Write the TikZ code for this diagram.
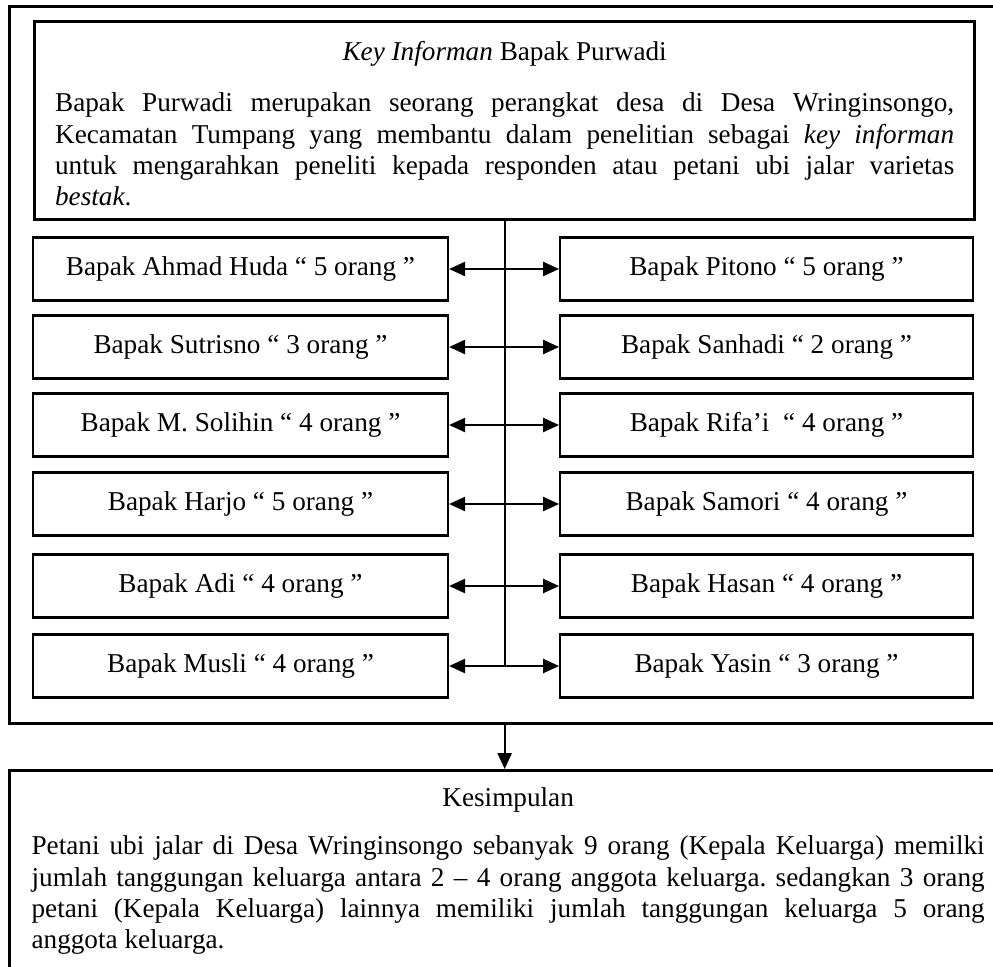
\documentclass[tikz,border=0pt]{standalone}
\usepackage{fontspec}
\setmainfont{Liberation Serif}
\usetikzlibrary{arrows.meta, positioning}
\setlength{\parindent}{0pt}
\frenchspacing

\begin{document}
\begin{tikzpicture}[
  x=0.441pt, y=-0.441pt,
  font=\fontsize{12}{13.8}\selectfont,
  frame/.style={draw, line width=1.4pt, inner sep=0pt, anchor=north west},
  infobox/.style={draw, line width=1.5pt, anchor=north west, inner xsep=9pt, inner ysep=0pt, align=justify},
  person/.style={draw, line width=1pt, minimum height=27.8pt, inner sep=0pt},
  link/.style={{Triangle[length=7pt,width=6.2pt]}-{Triangle[length=7pt,width=6.2pt]}, line width=0.9pt},
  arrow/.style={-{Triangle[length=7pt,width=6.2pt]}, line width=0.9pt}
]
  \useasboundingbox (0,0) rectangle (993,966);

  % outer frame round the informant and the respondents
  \node[frame, minimum width=441.9pt, minimum height=316.2pt] (frame) at (8,5) {};

  \node[infobox, text width=396.5pt, text height=17.2pt, text depth=70.1pt] (info) at (33,20) {%
    {\centering\textit{Key Informan} Bapak Purwadi\par}
    \vspace{8.7pt}
    Bapak Purwadi merupakan seorang perangkat desa di Desa Wringinsongo,\linebreak
    Kecamatan Tumpang yang membantu dalam penelitian sebagai \textit{key informan}\linebreak
    untuk mengarahkan peneliti kepada responden atau petani ubi jalar varietas\linebreak
    \textit{bestak}.};

  % respondents, left column
  \node[person, minimum width=183pt] (huda) at (240.5,269) {Bapak Ahmad Huda “ 5 orang ”};
  \node[person, minimum width=183pt] (sutrisno) at (240.5,347) {Bapak Sutrisno “ 3 orang ”};
  \node[person, minimum width=183pt] (solihin) at (240.5,425) {Bapak M. Solihin “ 4 orang ”};
  \node[person, minimum width=183pt] (harjo) at (240.5,504) {Bapak Harjo “ 5 orang ”};
  \node[person, minimum width=183pt] (adi) at (240.5,586) {Bapak Adi “ 4 orang ”};
  \node[person, minimum width=183pt] (musli) at (240.5,666) {Bapak Musli “ 4 orang ”};

  % respondents, right column
  \node[person, minimum width=182pt] (pitono) at (766.5,269) {Bapak Pitono “ 5 orang ”};
  \node[person, minimum width=182pt] (sanhadi) at (766.5,347) {Bapak Sanhadi “ 2 orang ”};
  \node[person, minimum width=182pt] (rifai) at (766.5,425) {Bapak Rifa’i\ \ “ 4 orang ”};
  \node[person, minimum width=182pt] (samori) at (766.5,504) {Bapak Samori “ 4 orang ”};
  \node[person, minimum width=182pt] (hasan) at (766.5,586) {Bapak Hasan “ 4 orang ”};
  \node[person, minimum width=182pt] (yasin) at (766.5,666) {Bapak Yasin “ 3 orang ”};

  \node[frame, inner xsep=9.7pt, text width=420.3pt, align=justify, text height=15.9pt, text depth=132pt] (concl) at (8,769) {%
    {\centering Kesimpulan\par}
    \vspace{7.4pt}
    Petani ubi jalar di Desa Wringinsongo sebanyak 9 orang (Kepala Keluarga) memilki\linebreak
    jumlah tanggungan keluarga antara 2 -- 4 orang anggota keluarga. sedangkan 3 orang\linebreak
    petani (Kepala Keluarga) lainnya memiliki jumlah tanggungan keluarga 5 orang\linebreak
    anggota keluarga.};

  \draw[line width=0.9pt] (info.south) -- (info.south |- musli.east);
  \draw[link] (huda) -- (pitono);
  \draw[link] (sutrisno) -- (sanhadi);
  \draw[link] (solihin) -- (rifai);
  \draw[link] (harjo) -- (samori);
  \draw[link] (adi) -- (hasan);
  \draw[link] (musli) -- (yasin);
  \draw[arrow] (frame.south -| info.south) -- (concl.north -| info.south);
\end{tikzpicture}
\end{document}
